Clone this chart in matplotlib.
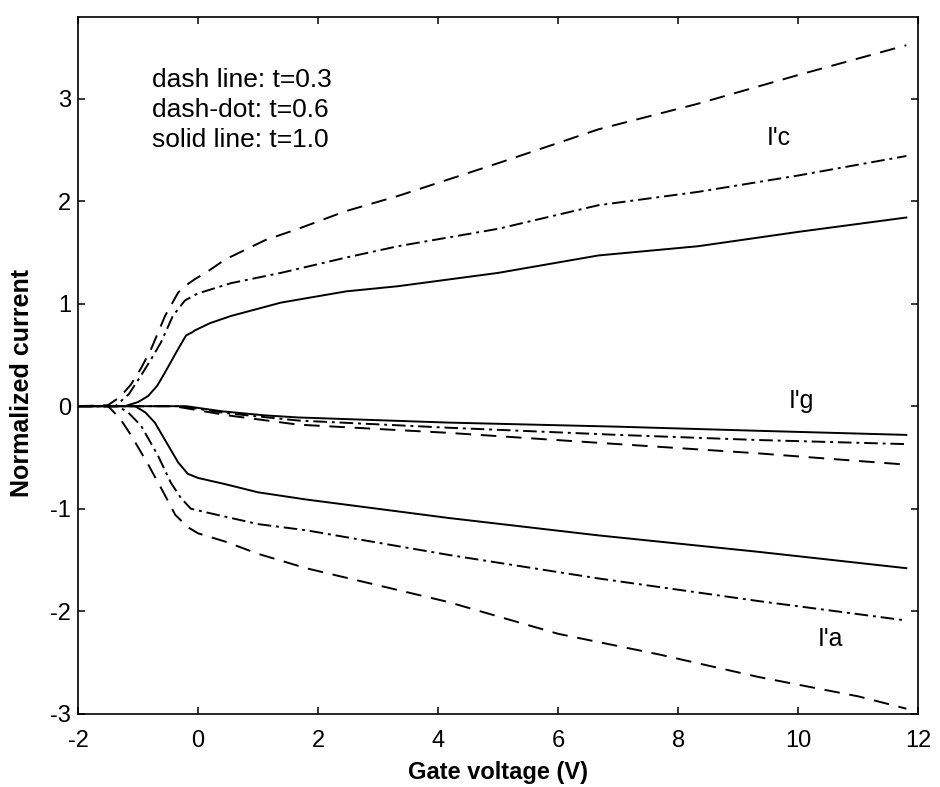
import numpy as np
import matplotlib.pyplot as plt

plt.rcParams['font.family'] = ['Liberation Sans', 'DejaVu Sans']
plt.rcParams['axes.unicode_minus'] = False

# I'c (collector current) for t = 0.3, 0.6, 1.0
xc_03 = [-2, -1.5, -1.3, -1.12, -0.95, -0.78, -0.55, -0.33, -0.15, -0.05, 0.15, 0.45, 1.12, 1.67, 2.45, 3.33, 5, 6.67, 8.33, 10, 11.8]
yc_03 = [0, 0.01, 0.09, 0.21, 0.37, 0.56, 0.88, 1.11, 1.20, 1.24, 1.31, 1.43, 1.62, 1.73, 1.90, 2.05, 2.37, 2.70, 2.95, 3.23, 3.52]
xc_06 = [-2, -1.38, -1.15, -0.95, -0.78, -0.62, -0.42, -0.22, -0.1, 0, 0.55, 1.38, 2.47, 3.33, 5, 6.67, 8.33, 10, 11.8]
yc_06 = [0, 0, 0.12, 0.30, 0.46, 0.62, 0.88, 1.03, 1.07, 1.10, 1.20, 1.30, 1.45, 1.56, 1.73, 1.96, 2.09, 2.25, 2.44]
xc_10 = [-2, -1.22, -1.0, -0.83, -0.68, -0.55, -0.33, -0.2, -0.1, -0.05, 0.2, 0.55, 1.38, 2.47, 3.33, 5, 6.67, 8.33, 10, 11.8]
yc_10 = [0, 0, 0.04, 0.10, 0.20, 0.33, 0.56, 0.69, 0.72, 0.74, 0.81, 0.88, 1.01, 1.12, 1.17, 1.30, 1.47, 1.56, 1.70, 1.84]

# I'g (gate current)
xg_03 = [-2, -0.4, 0.5, 1.67, 4.17, 7, 9.33, 11.8]
yg_03 = [0, 0, -0.09, -0.18, -0.26, -0.37, -0.46, -0.57]
xg_06 = [-2, -0.3, 0.5, 1.67, 4.17, 7, 9.33, 11.8]
yg_06 = [0, 0, -0.07, -0.14, -0.21, -0.28, -0.33, -0.37]
xg_10 = [-2, -0.2, 0.4, 1.12, 1.67, 4.17, 7, 9.33, 11.8]
yg_10 = [0, 0, -0.05, -0.09, -0.11, -0.16, -0.20, -0.24, -0.28]

# I'a (anode current)
xa_03 = [-2, -1.5, -1.3, -1.12, -0.83, -0.55, -0.38, -0.17, 0, 0.45, 1.0, 1.8, 4.17, 6.0, 7.67, 9.33, 11.0, 11.8]
ya_03 = [0, 0, -0.12, -0.28, -0.57, -0.87, -1.06, -1.18, -1.24, -1.32, -1.44, -1.58, -1.91, -2.22, -2.42, -2.64, -2.83, -2.95]
xa_06 = [-2, -1.33, -1.15, -0.95, -0.67, -0.45, -0.28, -0.12, 0.17, 1.0, 1.8, 4.17, 6.67, 9.33, 11.8]
ya_06 = [0, 0, -0.07, -0.19, -0.48, -0.75, -0.90, -1.0, -1.04, -1.15, -1.21, -1.45, -1.68, -1.90, -2.09]
xa_10 = [-2, -1.05, -0.88, -0.72, -0.5, -0.33, -0.17, 0, 0.45, 1.0, 1.8, 4.17, 6.67, 9.33, 11.8]
ya_10 = [0, 0, -0.06, -0.16, -0.38, -0.55, -0.66, -0.70, -0.76, -0.84, -0.91, -1.09, -1.26, -1.42, -1.58]

dash = (0, (8, 5))
dashdot = (0, (7, 2.5, 1.5, 2.5))
lw = 1.4

fig = plt.figure(figsize=(9.4, 7.87), dpi=100)
ax = fig.add_axes([0.083, 0.093, 0.894, 0.886])

for x, y in [(xc_03, yc_03), (xg_03, yg_03), (xa_03, ya_03)]:
    ax.plot(x, y, color='black', lw=lw, linestyle=dash)
for x, y in [(xc_06, yc_06), (xg_06, yg_06), (xa_06, ya_06)]:
    ax.plot(x, y, color='black', lw=lw, linestyle=dashdot)
for x, y in [(xc_10, yc_10), (xg_10, yg_10), (xa_10, ya_10)]:
    ax.plot(x, y, color='black', lw=lw, linestyle='-')

ax.set_xlim(-2, 12)
ax.set_ylim(-3, 3.8)
ax.set_xticks(np.arange(-2, 13, 2))
ax.set_yticks(np.arange(-3, 4, 1))
ax.tick_params(direction='in', length=5, width=1.1, top=True, right=True, labelsize=17)
ax.tick_params(axis='x', pad=12)
ax.tick_params(axis='y', pad=5)
for s in ax.spines.values():
    s.set_linewidth(1.2)

ax.set_xlabel('Gate voltage (V)', fontsize=17, fontweight='bold', labelpad=6)
ax.set_ylabel('Normalized current', fontsize=18, fontweight='bold')
ax.yaxis.set_label_coords(-0.052, 0.475)

ax.text(0.088, 0.926, 'dash line: t=0.3\ndash-dot: t=0.6\nsolid line: t=1.0',
        transform=ax.transAxes, fontsize=19, va='top', ha='left', linespacing=1.3)

ax.text(9.67, 2.62, "I'c", fontsize=18, ha='center', va='center')
ax.text(10.05, 0.05, "I'g", fontsize=18, ha='center', va='center')
ax.text(10.53, -2.27, "I'a", fontsize=18, ha='center', va='center')

fig.savefig('out.png', dpi=100)
